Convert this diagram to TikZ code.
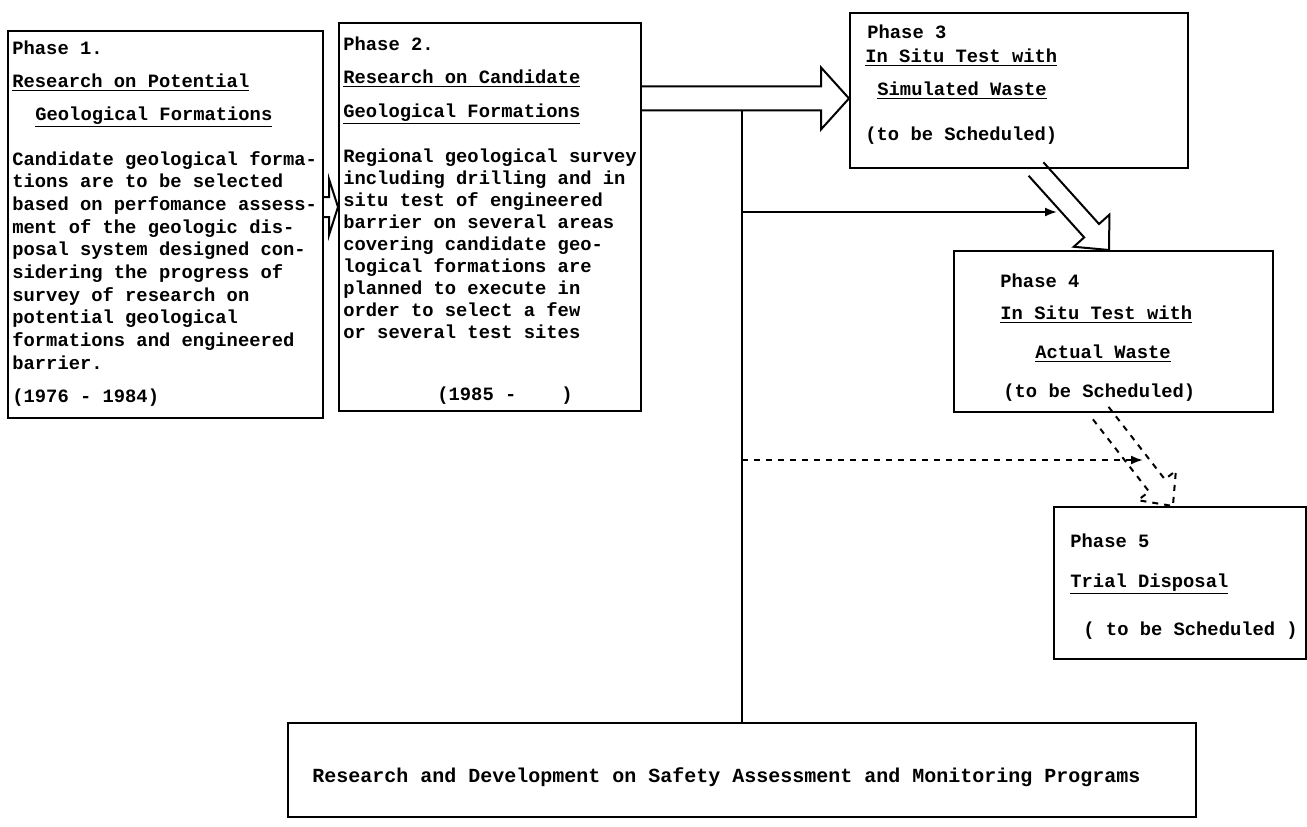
\documentclass[tikz,border=0pt]{standalone}
\usepackage{fontspec}
\setmainfont{Liberation Mono}
\usetikzlibrary{calc,arrows.meta}

\tikzset{
  phasebox/.style={draw, line width=1pt, inner sep=0pt, anchor=north west},
  txt/.style={anchor=base west, inner sep=0pt, font=\bfseries\fontsize{9.4}{11}\selectfont},
  link/.style={line width=1pt, -{Latex[length=6pt,width=4.5pt]}},
}

% hollow block arrow: [opts]{from}{to}{half shaft}{half head}{head length}
\newcommand{\fatarrow}[6][]{%
  \coordinate (fac) at ($(#3)!#6!(#2)$);
  \draw[line width=1pt,#1] ($(#2)!#4!90:(#3)$) -- ($(fac)!#4!-90:(#2)$)
    -- ($(fac)!#5!-90:(#2)$) -- (#3) -- ($(fac)!#5!90:(#2)$)
    -- ($(fac)!#4!90:(#2)$) -- ($(#2)!#4!-90:(#3)$);}

\begin{document}
\begin{tikzpicture}[x=0.5pt,y=-0.5pt]
\useasboundingbox (0,0) rectangle (1307,826);

% boxes
\node[phasebox, minimum width=157.5pt, minimum height=193.5pt] (ph1) at (7,30) {};
\node[phasebox, minimum width=151pt, minimum height=194pt] (ph2) at (338,22) {};
\node[phasebox, minimum width=169pt, minimum height=77.5pt] (ph3) at (849,12) {};
\node[phasebox, minimum width=159.5pt, minimum height=80.5pt] (ph4) at (953,250) {};
\node[phasebox, minimum width=126pt, minimum height=76pt] (ph5) at (1053,506) {};
\node[phasebox, minimum width=454pt, minimum height=47pt] (rd) at (287,722) {};

% Phase 1
\node[txt] (p1a) at (12,54) {Phase 1.};
\node[txt] (p1b) at (12,87) {\underline{Research on Potential}};
\node[txt] (p1c) at (35,120) {\underline{Geological Formations}};
\foreach \t [count=\i from 0] in {Candidate geological forma-, tions are to be selected,
  based on perfomance assess-, ment of the geologic dis-, posal system designed con-,
  sidering the progress of, survey of research on, potential geological,
  formations and engineered, barrier.}
  \node[txt] (p1l\i) at (12,165+22.7*\i) {\t};
\node[txt] (p1d) at (12,402) {(1976 - 1984)};

% Phase 2
\node[txt] (p2a) at (343,50) {Phase 2.};
\node[txt] (p2b) at (343,83) {\underline{Research on Candidate}};
\node[txt] (p2c) at (343,117) {\underline{Geological Formations}};
\foreach \t [count=\i from 0] in {Regional geological survey, including drilling and in,
  situ test of engineered, barrier on several areas, covering candidate geo-,
  logical formations are, planned to execute in, order to select a few,
  or several test sites}
  \node[txt] (p2l\i) at (343,162+22*\i) {\t};
\node[txt] (p2d) at (437,400) {(1985 -\hphantom{0000})};

% Phase 3
\node[txt] (p3a) at (867,38) {Phase 3};
\node[txt] (p3b) at (865,62) {\underline{In Situ Test with}};
\node[txt] (p3c) at (877,95) {\underline{Simulated Waste}};
\node[txt] (p3d) at (865,140) {(to be Scheduled)};

% Phase 4
\node[txt] (p4a) at (1000,287) {Phase 4};
\node[txt] (p4b) at (1000,319) {\underline{In Situ Test with}};
\node[txt] (p4c) at (1035,358) {\underline{Actual Waste}};
\node[txt] (p4d) at (1003,397) {(to be Scheduled)};

% Phase 5
\node[txt] (p5a) at (1070,547) {Phase 5};
\node[txt] (p5b) at (1070,587) {\underline{Trial Disposal}};
\node[txt] (p5c) at (1083,635) {( to be Scheduled )};

% safety assessment
\node[txt, font=\bfseries\fontsize{10}{12}\selectfont] (rdt) at (312,782)
  {Research and Development on Safety Assessment and Monitoring Programs};

% block arrows
\coordinate (a12s) at ($(ph1.north east)!0.455!(ph1.south east)$);
\coordinate (a12e) at (a12s -| ph2.west);
\fatarrow{a12s}{a12e}{5pt}{14pt}{4.5pt}
\coordinate (a23s) at ($(ph2.north east)!0.196!(ph2.south east)$);
\coordinate (a23e) at (a23s -| ph3.west);
\fatarrow{a23s}{a23e}{6pt}{15.5pt}{14pt}
\coordinate (a34s) at ($(ph3.south west)!0.55!(ph3.south east)$);
\coordinate (a34e) at ($(ph4.north west)!0.486!(ph4.north east)$);
\fatarrow{a34s}{a34e}{5pt}{12pt}{13pt}
\coordinate (a45s) at ($(ph4.south west)!0.46!(ph4.south east)$);
\coordinate (a45e) at ($(ph5.north west)!0.472!(ph5.north east)$);
\fatarrow[dashed]{a45s}{a45e}{5pt}{12pt}{13pt}

% feedback lines
\coordinate (vtop) at ($(rd.north |- a23s)+(0,12)$);
\draw[line width=1pt] (vtop) -- (rd.north);
\coordinate (s1a) at (vtop |- 0,212);
\coordinate (s1b) at (1057,212);
\draw[link] (s1a) -- (s1b);
\coordinate (s2a) at (vtop |- 0,460);
\coordinate (s2b) at (1143,460);
\draw[link, dashed] (s2a) -- (s2b);

\end{tikzpicture}
\end{document}
